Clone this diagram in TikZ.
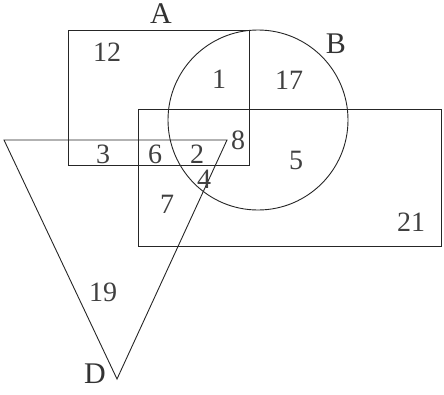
\documentclass[tikz,border=0pt]{standalone}
\usepackage{fontspec}
\setmainfont{Liberation Serif}
\usepackage{tikz}
\usetikzlibrary{positioning}

\begin{document}
\begin{tikzpicture}[x=1pt, y=-1pt,
  setline/.style={draw=black!85, line width=0.9pt},
  setname/.style={font=\fontsize{30}{34}\selectfont, text=black!80, inner sep=0pt,
    text height=20pt, text depth=0pt},
  count/.style={font=\fontsize{28}{32}\selectfont, text=black!75, inner sep=0pt,
    text height=19pt, text depth=0pt},
]
\useasboundingbox (0,0) rectangle (444,394);

% Sets
\draw[setline] (68,30) rectangle (249,165);
\draw[setline] (258,120) circle[radius=90];
\draw[setline] (138,109) rectangle (441,246);
\draw[setline] (4,140) -- (227,140) -- (117,379) -- cycle;

% Set names
\node[setname] (nameA) at (161,13) {A};
\node[setname] (nameB) at (336,43) {B};
\node[setname] (nameD) at (95,373) {D};

% Counts
\node[count] (n12) at (107,52) {12};
\node[count] (n1) at (219,79) {1};
\node[count] (n17) at (289,80) {17};
\node[count] (n3) at (103,154) {3};
\node[count] (n6) at (155,154) {6};
\node[count] (n2) at (197,154) {2};
\node[count] (n8) at (238,140) {8};
\node[count] (n4) at (204,179) {4};
\node[count] (n5) at (296,160) {5};
\node[count] (n7) at (167,204) {7};
\node[count] (n21) at (411,222) {21};
\node[count] (n19) at (103,292) {19};
\end{tikzpicture}
\end{document}
